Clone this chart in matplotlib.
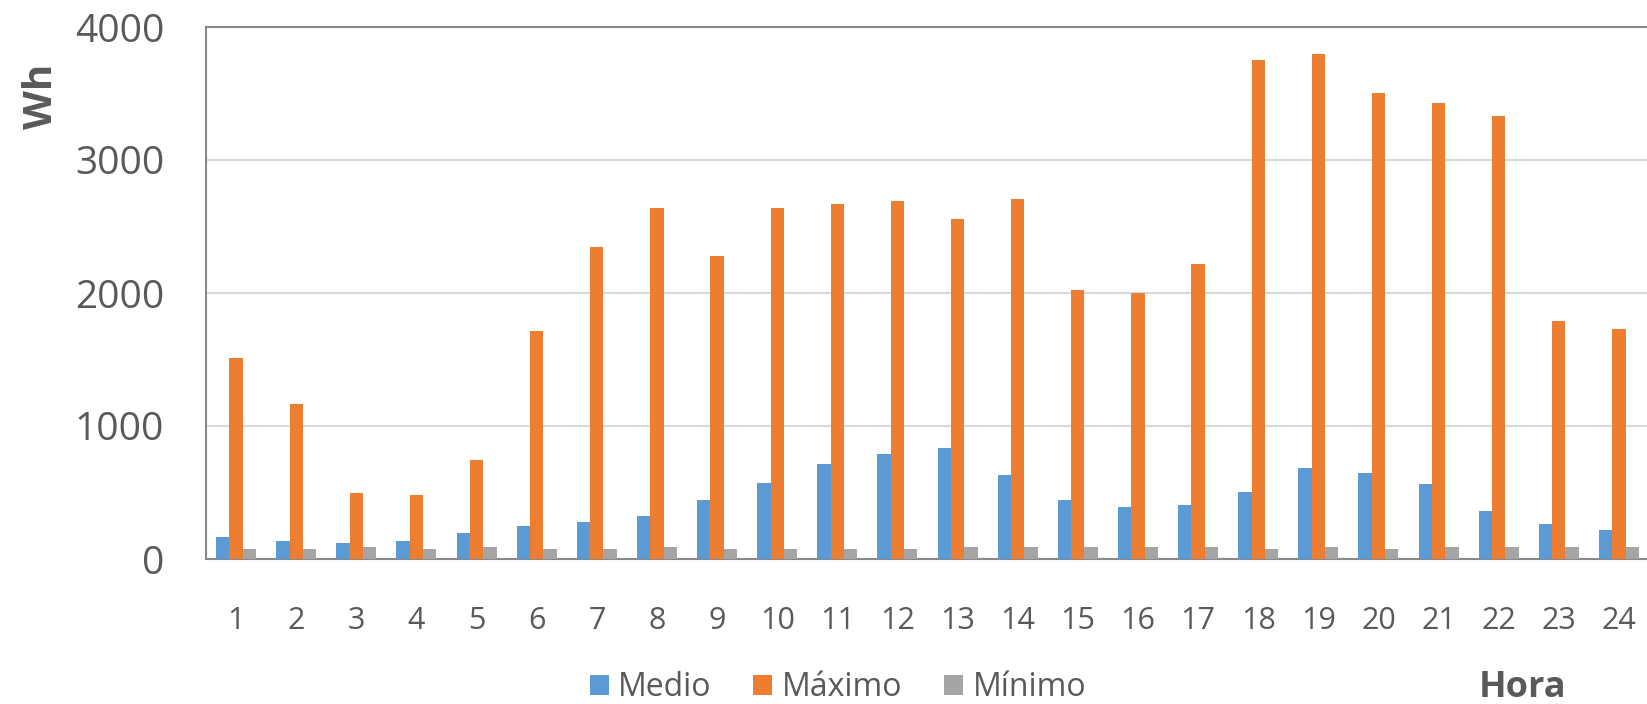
import numpy as np
from matplotlib import pyplot as plt

plt.rcParams['font.family'] = ['Open Sans', 'DejaVu Sans']

horas = list(range(1, 25))
medio = [163, 133, 121, 133, 196, 251, 279, 324, 440, 570, 716, 786,
         832, 628, 440, 391, 404, 506, 681, 650, 566, 364, 263, 219]
maximo = [1510, 1165, 497, 482, 746, 1712, 2345, 2640, 2275, 2640, 2668, 2695,
          2560, 2710, 2020, 2000, 2221, 3755, 3795, 3503, 3432, 3330, 1786, 1729]
minimo = [78, 78, 93, 78, 93, 78, 78, 93, 78, 78, 78, 78,
          93, 93, 93, 91, 91, 74, 91, 74, 91, 91, 91, 91]

series = [("Medio", medio, "#5B9BD5"),
          ("Máximo", maximo, "#ED7D31"),
          ("Mínimo", minimo, "#A5A5A5")]

text_color = "#595959"

fig = plt.figure(figsize=(16.47, 7.04), dpi=100)
ax = fig.add_axes([206 / 1647, 145 / 704, 1443 / 1647, 532 / 704])

x = np.array(horas)
width = 0.222
for i, (name, values, color) in enumerate(series):
    ax.bar(x + (i - 1) * width, values, width, color=color, label=name, zorder=3)

ax.set_xlim(0.5, 24.5)
ax.set_ylim(0, 4000)
ax.set_xticks(horas)
ax.set_yticks([0, 1000, 2000, 3000, 4000])
ax.tick_params(axis='x', length=0, pad=34, labelsize=22, labelcolor=text_color)
ax.tick_params(axis='y', length=0, pad=30, labelsize=28, labelcolor=text_color)

ax.grid(axis='y', color="#D9D9D9", linewidth=1.5, zorder=0)
for side in ['left', 'top', 'bottom']:
    ax.spines[side].set_color("#898989")
    ax.spines[side].set_linewidth(1.5)
ax.spines['right'].set_visible(False)

fig.text(41 / 1647, 1 - 96 / 704, "Wh", rotation=90, ha='center', va='center',
         fontsize=29, fontweight='bold', color=text_color)
fig.text(1523 / 1647, 1 - 688 / 704, "Hora", ha='center', va='center',
         fontsize=26, fontweight='bold', color=text_color)

fig.legend(loc='center', bbox_to_anchor=(838 / 1647, 1 - 688 / 704), ncol=3,
           frameon=False, fontsize=23, labelcolor=text_color,
           handlelength=0.6, handleheight=0.6, handletextpad=0.3,
           columnspacing=1.3, borderpad=0)

fig.savefig("out.png", dpi=100)
